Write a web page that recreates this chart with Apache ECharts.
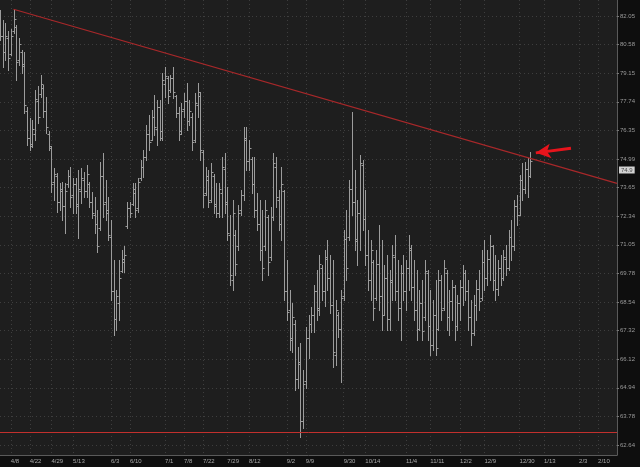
<!DOCTYPE html>
<html><head><meta charset="utf-8">
<script src="https://cdn.jsdelivr.net/npm/echarts@6/dist/echarts.min.js"></script>
<style>html,body{margin:0;padding:0;background:#0e0e0e;}#c{width:640px;height:467px;}</style>
</head><body><div id="c"></div>
<script>
// ---- data ----
const tickLabels = [62.64,63.78,64.94,66.12,67.32,68.54,69.78,71.05,72.34,73.65,74.99,76.35,77.74,79.15,80.58,82.05];
const tickDates = ['4/8','4/22','4/29','5/13','6/3','6/10','7/1','7/8','7/22','7/29','8/12','9/2','9/9','9/30','10/14','11/4','11/11','12/2','12/9','12/30','1/13','2/3','2/10'];
const tickSlots = [4,11,19,27,41,48,61,68,75,84,92,106,113,127,135,150,159,170,179,192,201,214,221];
const slotCount = 229;
const open = [
81.5,81.0,80.2,80.9,80.1,81.3,81.5,79.8,80.2,79.6,
77.3,76.0,75.6,76.2,77.8,78.1,78.4,77.3,76.2,75.5,
73.9,74.2,73.0,73.5,72.8,73.8,74.2,73.3,73.8,72.9,
73.5,74.0,73.5,73.8,73.0,72.4,72.0,71.8,74.2,73.0,
72.5,71.4,69.0,67.8,68.5,69.9,70.3,71.9,72.7,72.9,
73.4,72.7,74.1,74.6,75.1,76.2,75.9,77.0,76.4,77.5,
76.0,78.6,78.9,78.3,78.9,78.0,77.2,76.3,77.4,77.8,
76.8,77.0,75.9,77.6,78.0,75.3,73.4,74.0,73.1,74.2,
72.9,72.5,73.4,74.5,73.0,71.5,69.5,71.5,71.0,72.6,
73.3,75.9,74.9,75.0,73.8,72.6,72.0,70.8,71.0,72.3,
70.5,72.3,74.6,73.1,72.0,73.5,69.0,68.2,67.0,67.6,
65.3,66.0,63.6,65.2,67.0,67.6,68.0,69.0,68.3,70.0,
69.0,70.5,69.6,68.4,66.3,68.0,67.4,68.8,71.3,71.4,
73.6,73.0,71.2,72.5,74.7,72.2,70.6,69.5,70.3,68.7,
70.2,68.8,68.0,69.6,67.8,69.4,70.5,69.0,68.3,69.8,
69.0,70.0,70.8,69.2,68.2,67.4,68.5,67.9,69.8,67.5,
66.7,68.0,67.4,69.5,68.3,69.8,67.9,68.6,69.2,67.5,
68.5,69.2,69.8,69.0,67.9,67.2,68.4,69.1,68.7,70.3,
69.6,70.4,71.0,69.5,69.1,70.0,69.6,70.4,70.0,71.4,
71.0,72.8,72.4,74.0,73.6,74.5,74.2];
const high = [
82.36,81.84,81.7,81.3,81.4,82.4,81.6,80.9,80.3,80.2,
77.5,76.95,76.85,78.3,78.5,79.05,78.56,77.98,76.3,75.6,
74.57,74.33,73.86,73.9,73.86,74.47,74.6,74.1,74.1,74.47,
74.57,74.38,74.7,73.9,73.45,73.22,72.62,74.85,75.28,74.0,
73.22,72.17,70.37,69.06,70.37,70.82,71.0,72.99,73.0,73.86,
73.86,74.1,74.94,75.42,76.6,77.1,77.34,78.07,77.83,77.83,
79.16,79.46,79.0,79.06,79.46,78.07,77.49,77.68,78.17,78.66,
77.83,77.2,78.17,78.66,78.2,75.42,74.61,74.47,74.8,74.3,
73.86,73.86,75.08,75.28,73.68,72.40,73.08,71.72,72.85,73.54,
76.51,76.51,75.89,75.08,75.08,73.40,73.08,72.62,73.08,72.40,
72.76,75.28,75.08,73.54,74.61,73.54,70.37,69.06,68.50,67.78,
66.64,66.80,65.68,67.48,67.99,68.33,69.27,69.93,70.60,70.15,
70.82,71.27,70.60,70.37,68.63,68.12,69.06,71.72,72.62,74.00,
77.24,74.47,73.08,75.18,74.94,73.54,71.72,71.27,70.37,70.82,
71.94,71.27,70.15,70.60,69.93,71.05,71.50,70.37,70.15,70.60,
70.37,71.50,71.05,70.37,69.93,69.06,69.49,70.37,69.93,69.06,
68.63,69.49,69.93,69.71,70.37,69.93,69.06,69.49,69.27,68.84,
69.49,70.15,69.93,69.49,68.63,68.84,69.49,69.93,70.82,71.27,
70.82,71.50,71.05,70.60,70.37,70.60,70.82,71.05,71.72,72.17,
73.08,73.31,74.23,74.80,74.85,75.03,75.32];
const low = [
80.82,79.46,79.8,79.3,80.05,81.2,78.81,79.55,79.15,77.2,
75.65,75.42,75.55,75.9,76.7,77.98,77.0,76.22,75.42,73.45,
73.08,72.53,72.62,72.17,71.6,73.68,72.76,72.5,72.5,71.36,
72.94,73.22,73.22,72.76,72.26,71.58,70.73,71.7,72.3,72.17,
71.27,68.63,67.14,67.35,67.78,69.84,69.84,71.8,72.3,72.85,
72.3,72.53,74.0,74.14,74.94,75.42,75.89,76.13,75.65,75.89,
75.89,77.98,77.68,78.2,77.93,77.0,75.89,76.2,77.0,76.37,
76.61,75.42,75.8,77.0,74.94,72.76,73.3,72.76,73.0,72.48,
72.3,72.30,72.30,72.48,71.27,69.27,69.06,69.71,70.82,72.40,
73.08,74.47,74.47,73.40,72.30,71.72,70.37,69.49,70.82,69.71,
70.37,72.17,72.76,71.72,71.27,68.63,67.78,66.51,66.43,64.85,
64.93,62.96,63.32,64.93,66.18,67.27,67.27,67.78,67.99,68.63,
68.37,69.06,68.07,65.80,65.88,67.06,65.19,68.63,69.49,71.27,
72.40,70.82,70.15,70.82,71.72,70.15,69.06,68.63,67.78,68.63,
68.20,67.35,67.99,67.35,67.35,68.63,68.63,67.78,66.93,68.63,
68.20,69.06,68.63,67.78,66.93,67.35,66.93,67.78,66.93,66.30,
66.51,66.30,67.35,67.78,68.20,67.35,67.14,67.78,66.93,67.35,
67.78,68.42,68.63,67.35,66.72,67.14,67.78,68.20,68.63,69.06,
69.27,69.49,69.06,68.63,68.84,69.27,69.49,69.71,69.93,70.37,
70.82,71.94,72.40,73.08,73.40,73.22,74.15];
const close = [
81.0,80.2,81.0,79.9,81.0,81.9,79.7,80.6,79.5,77.6,
76.0,75.7,76.4,77.9,77.0,78.6,77.3,76.5,75.6,73.8,
74.3,73.0,73.6,72.8,73.5,74.2,73.2,73.8,72.8,73.6,
74.1,73.5,74.3,73.0,72.5,72.0,71.0,74.2,72.9,72.6,
71.5,69.0,67.8,68.8,69.6,70.4,70.6,72.7,72.5,73.6,
72.6,73.9,74.6,75.1,76.2,75.8,77.0,76.5,77.5,76.3,
78.8,79.0,78.0,78.9,78.2,77.2,76.2,77.3,77.8,76.8,
77.3,75.8,77.7,78.2,75.4,73.3,74.2,73.0,74.4,72.8,
72.5,73.6,74.6,72.9,71.6,69.7,72.5,70.2,72.5,73.3,
76.0,74.9,75.5,73.8,72.6,72.0,70.8,70.0,72.6,70.3,
72.3,74.8,73.2,72.0,73.8,69.0,68.1,66.9,67.9,65.3,
65.9,63.6,65.1,67.0,67.6,68.0,69.0,68.2,70.2,69.0,
70.4,69.6,68.4,66.4,68.2,67.4,68.7,71.3,70.0,73.6,
73.0,71.3,72.5,74.8,72.2,70.6,69.5,70.8,68.3,70.2,
68.8,68.0,69.6,67.8,69.5,70.6,69.0,68.3,69.8,69.0,
70.0,70.9,69.2,68.2,67.4,68.5,67.3,69.9,67.5,66.7,
68.0,66.6,69.5,68.2,70.0,67.9,68.6,69.2,67.5,68.5,
69.2,69.8,69.0,67.9,67.2,68.4,69.1,68.6,70.3,69.6,
70.4,71.0,69.5,69.1,70.0,69.6,70.5,70.0,71.4,71.0,
72.8,72.4,74.0,73.6,74.5,74.2,74.9];
const trendStart = [5, 82.4];
const trendEnd = [228, 73.85];
const supportLevel = 63.16;
const lastPrice = 74.9;
const arrowTail = [211, 75.5];
const arrowHead = [198, 75.28];

// ---- log-style price axis: tick labels are equally spaced in log(price) ----
const lo = tickLabels[0], hi = tickLabels[tickLabels.length - 1];
const steps = tickLabels.length - 1;
const T = p => steps * Math.log(p / lo) / Math.log(hi / lo);

const categories = [];
for (let i = 0; i < slotCount; i++) categories.push('');
tickSlots.forEach((s, k) => { categories[s] = tickDates[k]; });

const n = Math.min(open.length, high.length, low.length, close.length);
const ohlc = [];
for (let i = 0; i < n; i++) ohlc.push([i, T(open[i]), T(high[i]), T(low[i]), T(close[i])]);

const showTick = (idx, val) => val !== '';
const font = 'Liberation Sans';

const chart = echarts.init(document.getElementById('c'), null, {renderer: 'canvas'});
chart.setOption({
  animation: false,
  backgroundColor: '#0e0e0e',
  grid: [
    {left: 0, right: 23, top: 0, bottom: 12, show: true, backgroundColor: '#1e1e1e', borderWidth: 0},
    {left: 0, right: 23, top: 16, bottom: 22, show: false}
  ],
  xAxis: [{
    type: 'category', gridIndex: 0, data: categories, boundaryGap: false,
    axisLine: {show: true, onZero: false, lineStyle: {color: '#5a5a5a', width: 1}},
    axisTick: {show: false},
    axisLabel: {interval: showTick, color: '#a8a8a8', fontSize: 6, fontFamily: font, align: 'left', margin: 3},
    splitLine: {show: true, interval: showTick, lineStyle: {color: '#3e3e3e', type: [1, 3], width: 1}}
  }, {
    type: 'value', gridIndex: 1, min: 0, max: 1, show: false
  }],
  yAxis: [{
    type: 'value', gridIndex: 0, position: 'right', min: -0.35, max: 15.56,
    axisLine: {show: true, onZero: false, lineStyle: {color: '#5a5a5a', width: 1}},
    axisTick: {show: false}, axisLabel: {show: false}, splitLine: {show: false}
  }, {
    type: 'value', gridIndex: 1, position: 'right', min: 0, max: steps, interval: 1,
    axisLine: {show: false, onZero: false},
    axisTick: {show: true, length: 2, lineStyle: {color: '#777'}},
    axisLabel: {
      color: '#9a9a9a', fontSize: 6, fontFamily: font, margin: 3,
      formatter: v => {
        const k = Math.round(v);
        return (k >= 0 && k <= steps) ? tickLabels[k].toFixed(2) : '';
      }
    },
    splitLine: {show: true, lineStyle: {color: '#3e3e3e', type: [1, 3], width: 1}}
  }],
  series: [
    {
      type: 'custom', name: 'ohlc', data: ohlc, clip: false,
      xAxisIndex: 0, yAxisIndex: 0,
      encode: {x: 0, y: [1, 2, 3, 4]},
      renderItem: (params, api) => {
        const x = api.value(0);
        const h = api.coord([x, api.value(2)]);
        const l = api.coord([x, api.value(3)]);
        const o = api.coord([x, api.value(1)]);
        const c = api.coord([x, api.value(4)]);
        const px = Math.round(h[0]) + 0.5;
        const oy = Math.round(o[1]) + 0.5, cy = Math.round(c[1]) + 0.5;
        const st = {stroke: '#9c9c9c', lineWidth: 1};
        return {type: 'group', children: [
          {type: 'line', shape: {x1: px, y1: Math.round(h[1]), x2: px, y2: Math.round(l[1]) + 1}, style: st},
          {type: 'line', shape: {x1: px - 2, y1: oy, x2: px, y2: oy}, style: st},
          {type: 'line', shape: {x1: px, y1: cy, x2: px + 2, y2: cy}, style: st}
        ]};
      },
      markLine: {
        silent: true, symbol: 'none',
        data: [
          {yAxis: T(supportLevel), lineStyle: {color: '#c2302d', width: 1, type: 'solid'}, label: {show: false}},
          {yAxis: T(lastPrice), lineStyle: {color: 'rgba(0,0,0,0)', width: 1},
           label: {show: true, position: 'end', formatter: String(lastPrice), color: '#4a4a4a',
                   backgroundColor: '#d2d2d2', fontSize: 6, fontFamily: font,
                   padding: [1, 2, 0, 2], distance: 2, offset: [0, 9]}}
        ]
      }
    },
    {
      type: 'line', name: 'trend', symbol: 'none', silent: true, clip: false,
      xAxisIndex: 0, yAxisIndex: 0,
      data: [[trendStart[0], T(trendStart[1])], [trendEnd[0], T(trendEnd[1])]],
      lineStyle: {color: '#a8282a', width: 1.2},
      markLine: {
        silent: true, symbol: ['none', 'arrow'], symbolSize: [11, 15],
        lineStyle: {color: '#e8141c', width: 3, type: 'solid'},
        label: {show: false},
        data: [[{coord: [arrowTail[0], T(arrowTail[1])]}, {coord: [arrowHead[0], T(arrowHead[1])]}]]
      }
    }
  ]
});
</script>
</body></html>
